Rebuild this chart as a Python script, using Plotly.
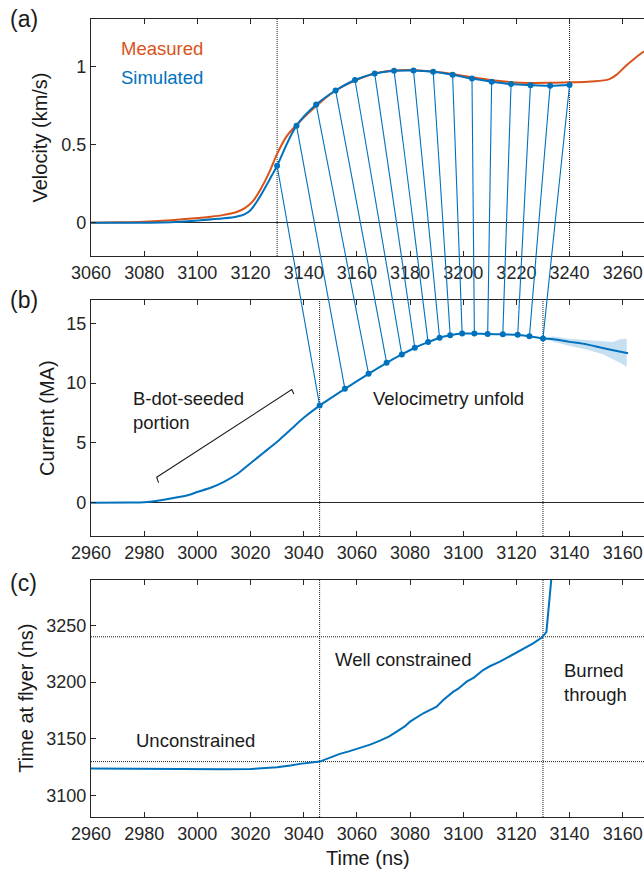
import plotly.graph_objects as go

# ---------------- data ----------------
# (a) velocity (km/s) vs time at flyer (ns)
meas_t = [3060, 3070, 3080, 3090, 3100, 3105, 3110, 3115, 3118, 3121, 3124, 3127, 3130,
          3133.5, 3137, 3145, 3152, 3160, 3167, 3174, 3181, 3189, 3196, 3203, 3211, 3218,
          3225, 3233, 3240, 3248, 3255, 3258, 3261, 3264.5, 3268]
meas_v = [0.0, 0.002, 0.006, 0.015, 0.03, 0.038, 0.05, 0.07, 0.095, 0.14, 0.22, 0.32, 0.44,
          0.55, 0.62, 0.75, 0.845, 0.913, 0.955, 0.972, 0.975, 0.966, 0.95, 0.93, 0.91, 0.898,
          0.893, 0.894, 0.897, 0.902, 0.918, 0.95, 1.0, 1.05, 1.095]

sim_pre_t = [3060, 3090, 3100, 3110, 3115, 3117.5, 3120, 3123.5, 3127, 3128.6]
sim_pre_v = [0.0, 0.003, 0.014, 0.028, 0.04, 0.052, 0.08, 0.165, 0.27, 0.32]

# unfold sample points: time at flyer / simulated velocity  <->  drive time / current
flyer_t = [3130, 3137.3, 3144.7, 3152, 3159.3, 3166.7, 3174, 3181.3, 3188.7, 3196,
           3203.3, 3210.7, 3218, 3225.3, 3232.7, 3240]
flyer_v = [0.364, 0.62, 0.755, 0.845, 0.912, 0.953, 0.971, 0.973, 0.965, 0.946,
           0.921, 0.901, 0.886, 0.879, 0.875, 0.88]
drive_t = [3046, 3055.5, 3064.4, 3071.2, 3076.9, 3081.8, 3086.8, 3091.1, 3095.1, 3099.6,
           3104.2, 3109.2, 3114.9, 3120.5, 3124.9, 3130]
drive_i = [8.12, 9.52, 10.78, 11.70, 12.40, 12.96, 13.43, 13.80, 14.0, 14.14,
           14.14, 14.1, 14.08, 14.05, 13.91, 13.74]

# (b) current (MA) vs drive time (ns)
cur_pre_t = [2960, 2975, 2980, 2985, 2991, 2997, 3000, 3005, 3010, 3015, 3020, 3025, 3030, 3035, 3040]
cur_pre_i = [0.0, 0.02, 0.05, 0.17, 0.39, 0.67, 0.9, 1.25, 1.75, 2.4, 3.3, 4.2, 5.1, 6.1, 7.1]
cur_post_t = [3134, 3140, 3146.4, 3152, 3156.4, 3162]
cur_post_i = [13.66, 13.45, 13.24, 12.95, 12.75, 12.49]
band_t = [3130, 3134, 3140, 3146.4, 3152.7, 3156.4, 3159, 3161.5]
band_hi = [13.8, 13.9, 13.7, 13.58, 13.52, 13.43, 13.66, 13.72]
band_lo = [13.7, 13.47, 13.1, 12.82, 12.4, 11.98, 11.71, 11.37]

# bracket marking the B-dot-seeded portion
bracket_t = [2985.4, 2984.7, 3035.5, 3036.3]
bracket_i = [1.68, 2.13, 9.46, 9.10]

# (c) time at flyer vs drive time
c_t = [2960, 2970, 2980, 2990, 3000, 3010, 3020, 3025, 3030, 3035, 3038.6, 3046, 3050,
       3053.6, 3057, 3061.2, 3065, 3068.7, 3072, 3075, 3078, 3080, 3085, 3090, 3092.5,
       3096.3, 3098, 3101.3, 3104, 3107.5, 3110, 3113.8, 3117, 3120.1, 3123, 3126.3,
       3129.7, 3131.3, 3133.5]
c_f = [3124, 3123.8, 3123.6, 3123.3, 3123.3, 3123.3, 3123.5, 3124, 3125, 3126.5, 3128,
       3130, 3133.5, 3136.8, 3139, 3141.8, 3145, 3148.5, 3152, 3156.4, 3161, 3165.2,
       3172.6, 3178.4, 3184.3, 3191.6, 3194, 3200.4, 3204, 3210.7, 3214, 3218, 3222,
       3225.9, 3230, 3234.2, 3239.5, 3244.4, 3300]

a_vlines = [3130, 3240]
b_vlines = [3046, 3130]
c_vlines = [3046, 3130]
c_hlines = [3130, 3240]

# ---------------- styling / geometry ----------------
W, H = 644, 871
BLUE = '#0072BD'
ORANGE = '#D95319'
AX = '#262626'
FONT = 'Liberation Sans, Arial, sans-serif'

xdom = [91 / W, 1.0]
ydom_a = [1 - 256 / H, 1 - 19 / H]
ydom_b = [1 - 536 / H, 1 - 300 / H]
ydom_c = [1 - 817 / H, 1 - 580 / H]
xr_a = [3060, 3268]
xr_bc = [2960, 3168]
yr_a = [-0.213, 1.302]
yr_b = [-2.78, 16.95]
yr_c = [3081.2, 3290]

fig = go.Figure()

# (a)
fig.add_trace(go.Scatter(x=meas_t, y=meas_v, mode='lines', line=dict(color=ORANGE, width=2, shape='spline'),
                         xaxis='x', yaxis='y'))
fig.add_trace(go.Scatter(x=sim_pre_t + flyer_t, y=sim_pre_v + flyer_v, mode='lines',
                         line=dict(color=BLUE, width=2, shape='spline'), xaxis='x', yaxis='y'))
fig.add_trace(go.Scatter(x=flyer_t, y=flyer_v, mode='markers', marker=dict(color=BLUE, size=6),
                         xaxis='x', yaxis='y'))

# (b)
fig.add_trace(go.Scatter(x=band_t, y=band_lo, mode='lines', line=dict(width=0, color='rgba(0,0,0,0)'),
                         xaxis='x2', yaxis='y2'))
fig.add_trace(go.Scatter(x=band_t, y=band_hi, mode='lines', line=dict(width=0, color='rgba(0,0,0,0)'),
                         fill='tonexty', fillcolor='rgba(0,114,189,0.22)', xaxis='x2', yaxis='y2'))
fig.add_trace(go.Scatter(x=cur_pre_t + drive_t + cur_post_t, y=cur_pre_i + drive_i + cur_post_i,
                         mode='lines', line=dict(color=BLUE, width=2, shape='spline', smoothing=0.6),
                         xaxis='x2', yaxis='y2'))
fig.add_trace(go.Scatter(x=drive_t, y=drive_i, mode='markers', marker=dict(color=BLUE, size=6),
                         xaxis='x2', yaxis='y2'))
fig.add_trace(go.Scatter(x=bracket_t, y=bracket_i, mode='lines', line=dict(color='#1a1a1a', width=1.1),
                         xaxis='x2', yaxis='y2'))

# (c)
fig.add_trace(go.Scatter(x=c_t, y=c_f, mode='lines', line=dict(color=BLUE, width=2),
                         xaxis='x3', yaxis='y3'))

# dotted guide lines
dot = dict(color='#1a1a1a', width=1, dash='1px,1px')
for v in a_vlines:
    fig.add_shape(type='line', xref='x', yref='y domain', x0=v, x1=v, y0=0, y1=1, line=dot, layer='below')
for v in b_vlines:
    fig.add_shape(type='line', xref='x2', yref='y2 domain', x0=v, x1=v, y0=0, y1=1, line=dot, layer='below')
for v in c_vlines:
    fig.add_shape(type='line', xref='x3', yref='y3 domain', x0=v, x1=v, y0=0, y1=1, line=dot, layer='below')
for v in c_hlines:
    fig.add_shape(type='line', xref='x3 domain', yref='y3', x0=0, x1=1, y0=v, y1=v, line=dot, layer='below')


# connectors between panel (a) and panel (b): data -> paper via the axes' domain & range
def to_px(t, xr):
    return xdom[0] + (t - xr[0]) / (xr[1] - xr[0]) * (xdom[1] - xdom[0])


def to_py(v, yr, yd):
    return yd[0] + (v - yr[0]) / (yr[1] - yr[0]) * (yd[1] - yd[0])


for tf, vf, td, idr in zip(flyer_t, flyer_v, drive_t, drive_i):
    fig.add_shape(type='line', xref='paper', yref='paper',
                  x0=to_px(tf, xr_a), y0=to_py(vf, yr_a, ydom_a),
                  x1=to_px(td, xr_bc), y1=to_py(idr, yr_b, ydom_b),
                  line=dict(color=BLUE, width=1.1), layer='above')

tickfont = dict(family=FONT, size=18, color=AX)


def xax(rng, anchor, **kw):
    d = dict(domain=xdom, range=rng, anchor=anchor, showline=True, linecolor=AX, linewidth=1.3,
             mirror='ticks', ticks='inside', ticklen=5, tickwidth=1.2, tickcolor=AX,
             showgrid=False, zeroline=False, tickmode='linear', dtick=20, tick0=rng[0],
             tickfont=tickfont, fixedrange=True, automargin=False)
    d.update(kw)
    return d


def yax(rng, dom, anchor, tickvals, ticktext, zero):
    return dict(domain=dom, range=rng, anchor=anchor, showline=True, linecolor=AX, linewidth=1.3,
                mirror=False, ticks='inside', ticklen=5, tickwidth=1.2, tickcolor=AX,
                showgrid=False, zeroline=zero, zerolinecolor=AX, zerolinewidth=1.3,
                tickvals=tickvals, ticktext=ticktext, tickfont=tickfont, fixedrange=True,
                automargin=False)


fig.update_layout(
    width=W, height=H, margin=dict(l=0, r=0, t=0, b=0, pad=0, autoexpand=False),
    paper_bgcolor='white', plot_bgcolor='white', showlegend=False,
    font=dict(family=FONT, color='#1a1a1a'),
    xaxis=xax(xr_a, 'y'),
    xaxis2=xax(xr_bc, 'y2'),
    xaxis3=xax(xr_bc, 'y3'),
    yaxis=yax(yr_a, ydom_a, 'x', [0, 0.5, 1], ['0', '0.5', '1'], True),
    yaxis2=yax(yr_b, ydom_b, 'x2', [0, 5, 10, 15], ['0', '5', '10', '15'], True),
    yaxis3=yax(yr_c, ydom_c, 'x3', [3100, 3150, 3200, 3250], ['3100', '3150', '3200', '3250'], False),
)

ann = []
txt = dict(family=FONT, size=18.5, color='#1a1a1a')
# panel letters
for lab, yc in [('(a)', 19.2), ('(b)', 300), ('(c)', 582.5)]:
    ann.append(dict(text=lab, xref='paper', yref='paper', x=23.5 / W, y=1 - yc / H,
                    xanchor='center', yanchor='middle', showarrow=False,
                    font=dict(family=FONT, size=23, color='#1a1a1a')))
# axis titles
tfont = dict(family=FONT, size=20, color='#1a1a1a')
ann.append(dict(text='Velocity (km/s)', xref='paper', yref='paper', x=39 / W, y=sum(ydom_a) / 2,
                textangle=-90, xanchor='center', yanchor='middle', showarrow=False, font=tfont))
ann.append(dict(text='Current (MA)', xref='paper', yref='paper', x=47 / W, y=sum(ydom_b) / 2,
                textangle=-90, xanchor='center', yanchor='middle', showarrow=False, font=tfont))
ann.append(dict(text='Time at flyer (ns)', xref='paper', yref='paper', x=25.3 / W, y=sum(ydom_c) / 2,
                textangle=-90, xanchor='center', yanchor='middle', showarrow=False, font=tfont))
ann.append(dict(text='Time (ns)', xref='paper', yref='paper', x=sum(xdom) / 2, y=1 - 858 / H,
                xanchor='center', yanchor='middle', showarrow=False, font=tfont))
# in-plot labels
ann.append(dict(text='Measured', xref='x', yref='y', x=3070.5, y=1.112, xanchor='left', yanchor='middle',
                showarrow=False, font=dict(family=FONT, size=18.5, color=ORANGE)))
ann.append(dict(text='Simulated', xref='x', yref='y', x=3070.5, y=0.931, xanchor='left', yanchor='middle',
                showarrow=False, font=dict(family=FONT, size=18.5, color=BLUE)))
ann.append(dict(text='B-dot-seeded<br>portion', xref='x2', yref='y2', x=2974.9, y=7.73, xanchor='left',
                yanchor='middle', align='left', showarrow=False, font=txt))
ann.append(dict(text='Velocimetry unfold', xref='x2', yref='y2', x=3094.5, y=8.72, xanchor='center',
                yanchor='middle', showarrow=False, font=txt))
ann.append(dict(text='Unconstrained', xref='x3', yref='y3', x=2976, y=3148.8, xanchor='left',
                yanchor='middle', showarrow=False, font=txt))
ann.append(dict(text='Well constrained', xref='x3', yref='y3', x=3051.2, y=3220.1, xanchor='left',
                yanchor='middle', showarrow=False, font=txt))
ann.append(dict(text='Burned<br>through', xref='x3', yref='y3', x=3137.1, y=3199.4, xanchor='left',
                yanchor='middle', align='left', showarrow=False, font=txt))
fig.update_layout(annotations=ann)

fig.write_html('out.html', config=dict(displayModeBar=False))
